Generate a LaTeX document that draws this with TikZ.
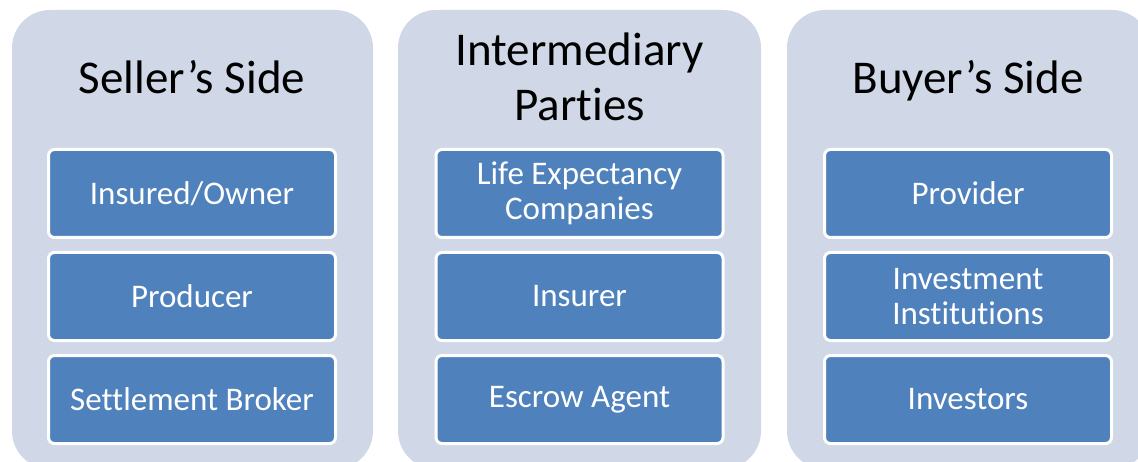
\documentclass[tikz,border=0pt]{standalone}
\usepackage{fontspec}
\setmainfont{Carlito}[Ligatures=NoCommon]
\begin{document}
\begin{tikzpicture}[x=1pt,y=1pt,
  panel/.style={fill=panelfill, draw=none, rounded corners=38pt},
  item/.style={fill=itemfill, draw=white, line width=3pt, rounded corners=6pt,
    minimum width=287pt, minimum height=88pt, inner sep=0pt,
    text=white, align=center, font=\fontsize{33}{35}\selectfont},
  heading/.style={anchor=base, align=center, font=\fontsize{47}{55}\selectfont}
]
\definecolor{panelfill}{RGB}{208,216,232}
\definecolor{itemfill}{RGB}{79,129,189}
\useasboundingbox (0,0) rectangle (1138,461);
\clip (0,0) rectangle (1138,461);

% column backgrounds
\path[panel] (12,-8) rectangle (373,451);
\path[panel] (398,-8) rectangle (761,451);
\path[panel] (787,-8) rectangle (1150,451);

% headings (base anchor sits on the last line)
\node[heading] (hsell) at (192,367) {Seller’s Side};
\node[heading] (hmid) at (579.5,340) {Intermediary\\Parties};
\node[heading] (hbuy) at (968,367) {Buyer’s Side};

% seller side
\node[item] (owner)    at (192,267.5) {Insured/Owner};
\node[item] (producer) at (192,164.5) {Producer};
\node[item] (broker)   at (192,61.5)  {Settlement Broker};

% intermediary parties
\node[item] (lifeexp) at (579.5,267.5) {Life Expectancy\\Companies};
\node[item] (insurer) at (579.5,164.5) {Insurer};
\node[item] (escrow)  at (579.5,61.5)  {Escrow Agent};

% buyer side
\node[item] (provider)    at (968,267.5) {Provider};
\node[item] (institution) at (968,164.5) {Investment\\Institutions};
\node[item] (investors)   at (968,61.5)  {Investors};
\end{tikzpicture}
\end{document}
